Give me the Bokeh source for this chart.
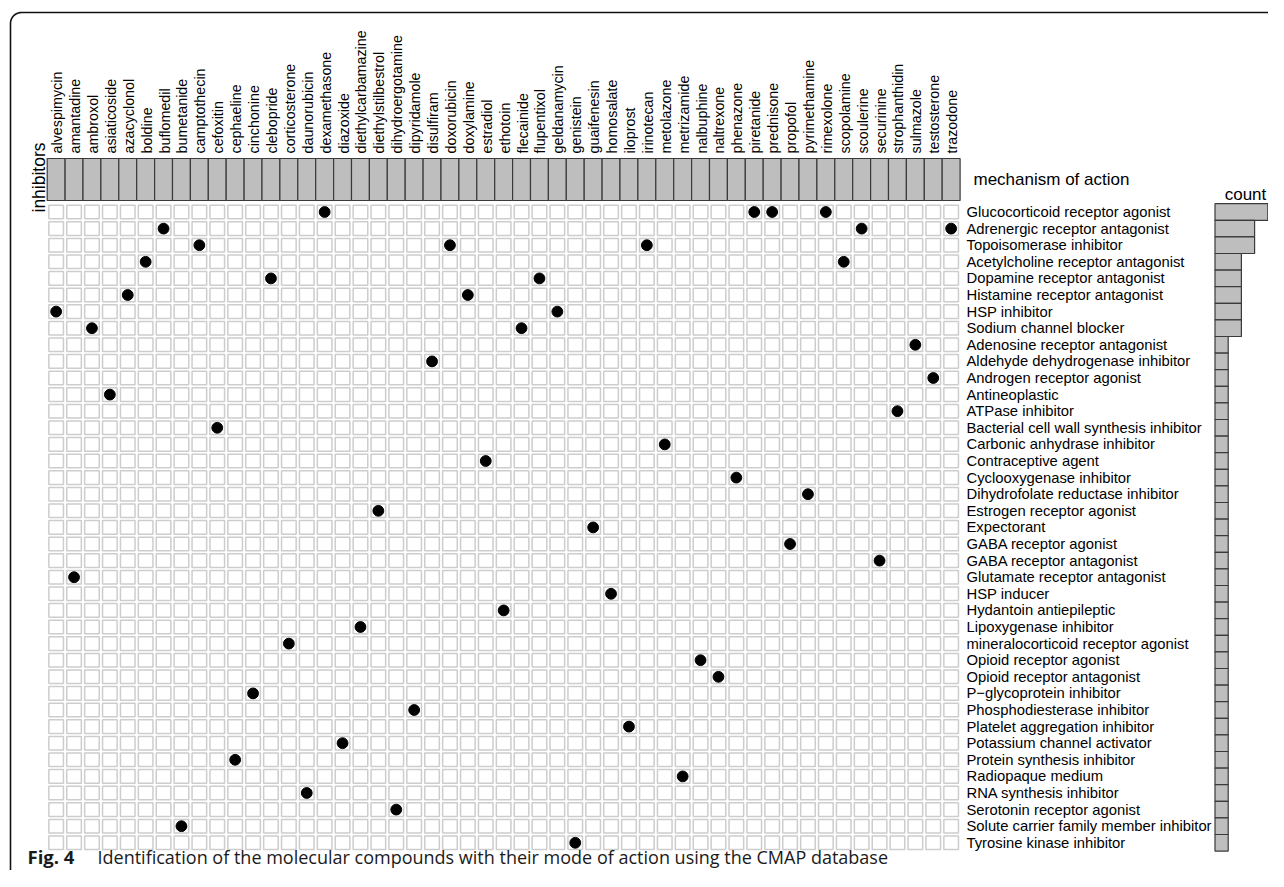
import math
from bokeh.plotting import figure
from bokeh.models import Range1d
from bokeh.core.properties import value
from bokeh.embed import file_html
from bokeh.resources import INLINE

# ---------------- data ----------------
inhibitors = [
    "alvespimycin", "amantadine", "ambroxol", "asiaticoside", "azacyclonol", "boldine",
    "buflomedil", "bumetanide", "camptothecin", "cefoxitin", "cephaeline", "cinchonine",
    "clebopride", "corticosterone", "daunorubicin", "dexamethasone", "diazoxide",
    "diethylcarbamazine", "diethylstilbestrol", "dihydroergotamine", "dipyridamole",
    "disulfiram", "doxorubicin", "doxylamine", "estradiol", "ethotoin", "flecainide",
    "flupentixol", "geldanamycin", "genistein", "guaifenesin", "homosalate", "iloprost",
    "irinotecan", "metolazone", "metrizamide", "nalbuphine", "naltrexone", "phenazone",
    "piretanide", "prednisone", "propofol", "pyrimethamine", "rimexolone", "scopolamine",
    "scoulerine", "securinine", "strophanthidin", "sulmazole", "testosterone", "trazodone",
]

mechanisms = [
    "Glucocorticoid receptor agonist", "Adrenergic receptor antagonist",
    "Topoisomerase inhibitor", "Acetylcholine receptor antagonist",
    "Dopamine receptor antagonist", "Histamine receptor antagonist", "HSP inhibitor",
    "Sodium channel blocker", "Adenosine receptor antagonist",
    "Aldehyde dehydrogenase inhibitor", "Androgen receptor agonist", "Antineoplastic",
    "ATPase inhibitor", "Bacterial cell wall synthesis inhibitor",
    "Carbonic anhydrase inhibitor", "Contraceptive agent", "Cyclooxygenase inhibitor",
    "Dihydrofolate reductase inhibitor", "Estrogen receptor agonist", "Expectorant",
    "GABA receptor agonist", "GABA receptor antagonist", "Glutamate receptor antagonist",
    "HSP inducer", "Hydantoin antiepileptic", "Lipoxygenase inhibitor",
    "mineralocorticoid receptor agonist", "Opioid receptor agonist",
    "Opioid receptor antagonist", "P\u2212glycoprotein inhibitor",
    "Phosphodiesterase inhibitor", "Platelet aggregation inhibitor",
    "Potassium channel activator", "Protein synthesis inhibitor", "Radiopaque medium",
    "RNA synthesis inhibitor", "Serotonin receptor agonist",
    "Solute carrier family member inhibitor", "Tyrosine kinase inhibitor",
]

# membership pairs (inhibitor -> mechanism of action)
dot_inhibitor = [
    "dexamethasone", "piretanide", "prednisone", "rimexolone",
    "buflomedil", "scoulerine", "trazodone",
    "camptothecin", "doxorubicin", "irinotecan",
    "boldine", "scopolamine",
    "clebopride", "flupentixol",
    "azacyclonol", "doxylamine",
    "alvespimycin", "geldanamycin",
    "ambroxol", "flecainide",
    "sulmazole", "disulfiram", "testosterone", "asiaticoside", "strophanthidin",
    "cefoxitin", "metolazone", "estradiol", "phenazone", "pyrimethamine",
    "diethylstilbestrol", "guaifenesin", "propofol", "securinine", "amantadine",
    "homosalate", "ethotoin", "diethylcarbamazine", "corticosterone", "nalbuphine",
    "naltrexone", "cinchonine", "dipyridamole", "iloprost", "diazoxide",
    "cephaeline", "metrizamide", "daunorubicin", "dihydroergotamine", "bumetanide",
    "genistein",
]
dot_mechanism = [
    "Glucocorticoid receptor agonist", "Glucocorticoid receptor agonist",
    "Glucocorticoid receptor agonist", "Glucocorticoid receptor agonist",
    "Adrenergic receptor antagonist", "Adrenergic receptor antagonist",
    "Adrenergic receptor antagonist",
    "Topoisomerase inhibitor", "Topoisomerase inhibitor", "Topoisomerase inhibitor",
    "Acetylcholine receptor antagonist", "Acetylcholine receptor antagonist",
    "Dopamine receptor antagonist", "Dopamine receptor antagonist",
    "Histamine receptor antagonist", "Histamine receptor antagonist",
    "HSP inhibitor", "HSP inhibitor",
    "Sodium channel blocker", "Sodium channel blocker",
    "Adenosine receptor antagonist", "Aldehyde dehydrogenase inhibitor",
    "Androgen receptor agonist", "Antineoplastic", "ATPase inhibitor",
    "Bacterial cell wall synthesis inhibitor", "Carbonic anhydrase inhibitor",
    "Contraceptive agent", "Cyclooxygenase inhibitor",
    "Dihydrofolate reductase inhibitor", "Estrogen receptor agonist", "Expectorant",
    "GABA receptor agonist", "GABA receptor antagonist",
    "Glutamate receptor antagonist", "HSP inducer", "Hydantoin antiepileptic",
    "Lipoxygenase inhibitor", "mineralocorticoid receptor agonist",
    "Opioid receptor agonist", "Opioid receptor antagonist",
    "P\u2212glycoprotein inhibitor", "Phosphodiesterase inhibitor",
    "Platelet aggregation inhibitor", "Potassium channel activator",
    "Protein synthesis inhibitor", "Radiopaque medium", "RNA synthesis inhibitor",
    "Serotonin receptor agonist", "Solute carrier family member inhibitor",
    "Tyrosine kinase inhibitor",
]

counts = [dot_mechanism.count(m) for m in mechanisms]

caption_bold = "Fig. 4"
caption_text = ("Identification of the molecular compounds with their mode of action "
                "using the CMAP database")

# ---------------- layout (pixels of the picture) ----------------
W, H = 1268, 870
OX, OY = 0, 0                 # picture origin == figure origin
COL0, COLP = 55.65, 17.9      # centre of first column, column pitch
ROW0, ROWP = 211.5, 16.6      # centre of first row, row pitch
CNT0, CNTP = 1214.5, 13.2     # count bar origin, px per unit

def dx(px):
    return (px - COL0) / COLP

def dy(py):
    return (py - ROW0) / ROWP

FONT = value("Liberation Sans")

p = figure(
    width=W, height=H, output_backend="svg", toolbar_location=None,
    x_range=Range1d(dx(OX), dx(OX + W)),
    y_range=Range1d(dy(OY + H), dy(OY)),
    x_axis_location=None, y_axis_location=None,
    min_border=0, outline_line_color=None,
    background_fill_color="white", border_fill_color="white",
)
p.grid.visible = False
p.extra_x_ranges = {"count": Range1d((OX - CNT0) / CNTP, (OX + W - CNT0) / CNTP)}

ncol, nrow = len(inhibitors), len(mechanisms)
col_idx = {n: i for i, n in enumerate(inhibitors)}
row_idx = {n: i for i, n in enumerate(mechanisms)}

# frame (top + left border with rounded corner)
R = 11
fx, fy = [10, 10], [OY + H + 2, 12 + R]
for k in range(1, 12):
    a = math.pi + k * (math.pi / 2) / 11
    fx.append(10 + R + R * math.cos(a))
    fy.append(12 + R + R * math.sin(a))
fx.append(OX + W + 2)
fy.append(12)
p.line([dx(v) for v in fx], [dy(v) for v in fy], line_color="#111111", line_width=1.6)

# header boxes
p.quad(left=[i - 0.5 for i in range(ncol)], right=[i + 0.5 for i in range(ncol)],
       top=dy(158), bottom=dy(200), fill_color="#bebebe", line_color="#3a3a3a",
       line_width=1.2)

# grid cells
cx = [i for r in range(nrow) for i in range(ncol)]
cy = [r for r in range(nrow) for i in range(ncol)]
p.rect(cx, cy, width=14.6, height=13.6, width_units="screen", height_units="screen",
       fill_color="white", line_color="#cdcdcd", line_width=1.5)

# dots
p.scatter([col_idx[n] for n in dot_inhibitor], [row_idx[m] for m in dot_mechanism],
          size=10.8, fill_color="black", line_color="black")

# column labels
p.text(list(range(ncol)), [dy(153)] * ncol, text=inhibitors, angle=math.pi / 2,
       text_align="left", text_baseline="middle", x_offset=1,
       text_font=FONT, text_font_size="14.3px", text_color="black")

# row labels
p.text([dx(966)] * nrow, list(range(nrow)), text=mechanisms, text_align="left",
       text_baseline="middle", text_font=FONT, text_font_size="14.8px",
       text_color="black")

# titles
p.text([dx(973)], [dy(179)], text=["mechanism of action"], text_align="left",
       text_baseline="middle", text_font=FONT, text_font_size="17px",
       text_color="black")
p.text([dx(38.5)], [dy(212)], text=["inhibitors"], angle=math.pi / 2,
       text_align="left", text_baseline="middle", text_font=FONT,
       text_font_size="17.5px", text_color="black")

# count bars
p.hbar(y=list(range(nrow)), left=0, right=counts, height=1.0, x_range_name="count",
       fill_color="#bebebe", line_color="#3a3a3a", line_width=1.2)
p.text([dx(1245)], [dy(193.5)], text=["count"], text_align="center",
       text_baseline="middle", text_font=FONT, text_font_size="17px",
       text_color="black")

# caption
p.text([dx(27)], [dy(856)], text=[caption_bold], text_align="left",
       text_baseline="middle", text_font=value("Open Sans"),
       text_font_style="bold", text_font_size="18.5px", text_color="#1a1a1a")
p.text([dx(97)], [dy(856)], text=[caption_text], text_align="left",
       text_baseline="middle", text_font=value("Open Sans"),
       text_font_size="18px", text_color="#1a1a1a")

open("out.html", "w").write(file_html(p, INLINE))
